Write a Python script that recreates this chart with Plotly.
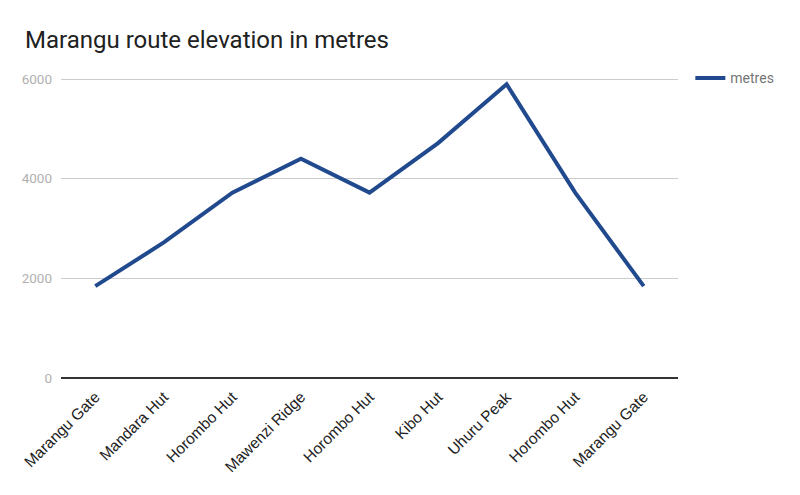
import plotly.graph_objects as go

stops = ["Marangu Gate", "Mandara Hut", "Horombo Hut", "Mawenzi Ridge", "Horombo Hut",
         "Kibo Hut", "Uhuru Peak", "Horombo Hut", "Marangu Gate"]
metres = [1843, 2720, 3720, 4400, 3720, 4714, 5895, 3720, 1843]
y_ticks = [0, 2000, 4000, 6000]

idx = list(range(len(stops)))

fig = go.Figure()
fig.add_trace(go.Scatter(
    x=idx, y=metres, mode="lines", name="metres",
    line=dict(color="#214a8e", width=4),
))

# top of plot slightly above 6000 so the 6000 gridline is drawn
ymax = 6000 * 305 / 299
fig.update_layout(
    width=800, height=495,
    margin=dict(l=61, r=122, t=73, b=117),
    paper_bgcolor="white", plot_bgcolor="white",
    title=dict(text="Marangu route elevation in metres", x=25/800, xanchor="left",
               y=1-40/495, yanchor="middle",
               font=dict(family="Roboto", size=24, color="#212121")),
    showlegend=True,
    legend=dict(x=1.02, y=1.035, xanchor="left", yanchor="top",
                font=dict(family="Roboto", size=14, color="#757575"),
                bgcolor="rgba(0,0,0,0)"),
    xaxis=dict(
        tickmode="array", tickvals=idx, ticktext=stops, tickangle=-45,
        range=[-0.5, len(stops) - 0.5], showgrid=False, zeroline=False,
        showline=False, ticks="", ticklabelstandoff=6,
        tickfont=dict(family="Liberation Sans, Arial", size=15.5, color="#222222"),
    ),
    yaxis=dict(
        tickmode="array", tickvals=y_ticks, range=[0, ymax],
        showgrid=True, gridcolor="#cccccc", gridwidth=1,
        zeroline=True, zerolinecolor="#333333", zerolinewidth=1.5,
        showline=False, ticks="", ticklabelstandoff=8,
        tickfont=dict(family="Roboto", size=13.5, color="#b0b0b0"),
    ),
)

fig.write_html("out.html")
